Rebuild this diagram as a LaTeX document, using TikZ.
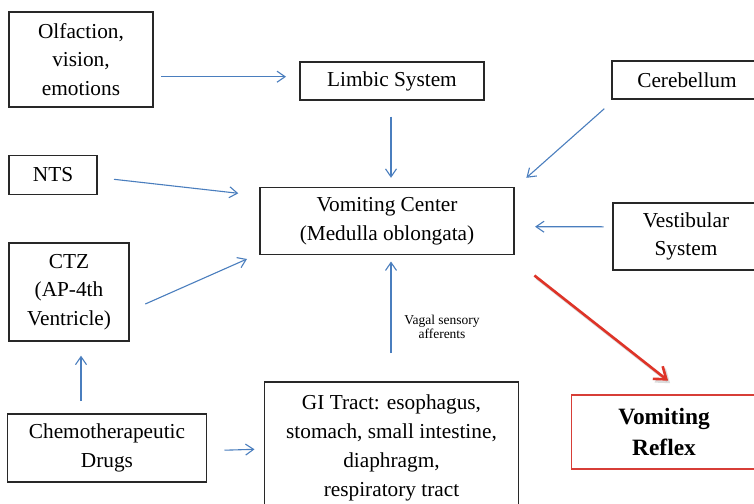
\documentclass[tikz,border=0pt]{standalone}
\usepackage{fontspec}
\setmainfont{Liberation Serif}
\usetikzlibrary{arrows.meta}
\definecolor{arrblue}{RGB}{74,126,190}
\definecolor{boxline}{RGB}{40,40,40}
\definecolor{redline}{RGB}{222,52,40}
\definecolor{redbox}{RGB}{215,62,55}
\tikzset{
  box/.style={draw=boxline, line width=1.4pt, inner sep=0pt, align=center,
    font=\fontsize{21.3}{28.5}\selectfont},
  arr/.style={draw=arrblue, line width=1.1pt, -{Straight Barb[length=8pt,width=11pt]}},
  redarr/.style={draw=redline, line width=2.6pt, -{Straight Barb[length=11pt,width=16pt]}},
  lbl/.style={inner sep=0pt, align=center, font=\fontsize{13.5}{14.5}\selectfont}
}
\begin{document}
\begin{tikzpicture}[x=1pt,y=-1pt]
\useasboundingbox (0,0) rectangle (754,503);
\clip (0,0) rectangle (754,503);
\fill[white] (0,0) rectangle (754,503);
% boxes (pixel coordinates, y downwards)
\node[box, minimum width=144pt, minimum height=95pt] (olf) at (81,59.5) {Olfaction,\\vision,\\emotions};
\node[box, minimum width=184pt, minimum height=38pt] (limbic) at (392,81) {Limbic System};
\node[box, minimum width=150pt, minimum height=38pt] (cereb) at (687,80) {Cerebellum};
\node[box, minimum width=88pt, minimum height=39pt] (nts) at (53,175) {NTS};
\node[box, minimum width=254pt, minimum height=67pt] (vc) at (387,221) {Vomiting Center\\(Medulla oblongata)};
\node[box, minimum width=146pt, minimum height=67pt] (vest) at (686,236.5) {Vestibular\\System};
\node[box, minimum width=120pt, minimum height=98pt] (ctz) at (69,292) {CTZ\\(AP-4th\\Ventricle)};
\node[box, minimum width=199pt, minimum height=68pt] (chemo) at (107,448) {Chemotherapeutic\\Drugs};
\node[box, minimum width=254pt, minimum height=131pt, font=\fontsize{21.3}{29}\selectfont] (gi) at (391.5,447.5) {GI Tract: esophagus,\\stomach, small intestine,\\diaphragm,\\respiratory tract};
\node[box, draw=redbox, minimum width=185pt, minimum height=74pt, font=\fontsize{23.4}{31}\selectfont\bfseries] (reflex) at (664,432) {Vomiting\\Reflex};
\node[lbl] (vagal) at (442,327) {Vagal sensory\\afferents};
% connectors
\draw[arr] ([xshift=7.7pt,yshift=-17.2pt]olf.east) -- ([xshift=-13.3pt,yshift=4.3pt]limbic.west);
\draw[arr] ([xshift=-1pt,yshift=-16pt]limbic.south) -- ([xshift=4pt,yshift=9pt]vc.north);
\draw[arr] ([xshift=16.3pt,yshift=-4.3pt]nts.east) -- ([xshift=-21pt,yshift=27.7pt]vc.west);
\draw[arr] ([xshift=15.6pt,yshift=-12pt]ctz.east) -- ([xshift=-12.3pt,yshift=-38pt]vc.west);
\draw[arr] ([xshift=-7pt,yshift=-9pt]cereb.south west) -- ([xshift=11.7pt,yshift=9pt]vc.north east);
\draw[arr] ([xshift=-8.7pt,yshift=9.7pt]vest.west) -- ([xshift=20.4pt,yshift=-5.7pt]vc.east);
\draw[arr] ([xshift=-26pt,yshift=12.3pt]chemo.north) -- ([xshift=12pt,yshift=-14pt]ctz.south);
\draw[arr] ([xshift=17.3pt,yshift=-2.2pt]chemo.east) -- ([xshift=-9.3pt,yshift=-1.8pt]gi.west);
\draw[arr] ([xshift=-0.5pt,yshift=28.3pt]gi.north) -- ([xshift=4pt,yshift=-6.3pt]vc.south);
% red arrow with soft shadow
\draw[redarr, draw=black!30, opacity=0.45, transform canvas={xshift=2pt,yshift=-2.5pt}] ([xshift=19.7pt,yshift=-20.3pt]vc.south east) -- ([xshift=4.1pt,yshift=13.6pt]reflex.north);
\draw[redarr] ([xshift=19.7pt,yshift=-20.3pt]vc.south east) -- ([xshift=4.1pt,yshift=13.6pt]reflex.north);
\end{tikzpicture}
\end{document}
